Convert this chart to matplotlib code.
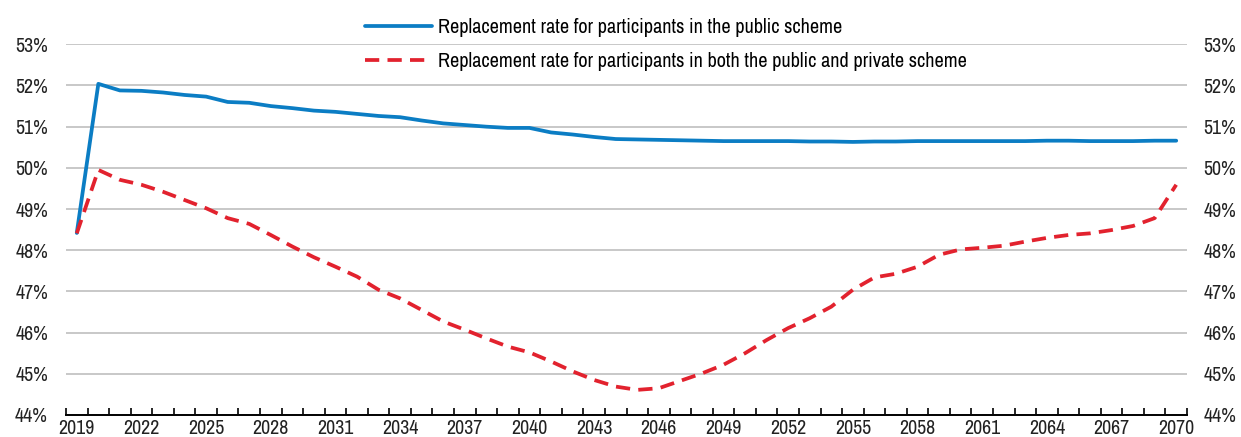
import numpy as np
import matplotlib.pyplot as plt
from matplotlib.ticker import FixedLocator, PercentFormatter

plt.rcParams['font.family'] = ['Archivo Narrow', 'Liberation Sans', 'DejaVu Sans']

years = list(range(2019, 2071))

public = [48.42, 52.04, 51.88, 51.87, 51.83, 51.77, 51.73, 51.60, 51.58, 51.50,
          51.45, 51.39, 51.36, 51.31, 51.26, 51.23, 51.15, 51.08, 51.04, 51.00,
          50.97, 50.97, 50.86, 50.81, 50.75, 50.70, 50.69, 50.68, 50.67, 50.66,
          50.65, 50.65, 50.65, 50.65, 50.64, 50.64, 50.63, 50.64, 50.64, 50.65,
          50.65, 50.65, 50.65, 50.65, 50.65, 50.66, 50.66, 50.65, 50.65, 50.65,
          50.66, 50.66]

both = [48.41, 49.95, 49.71, 49.59, 49.42, 49.22, 49.02, 48.78, 48.64, 48.37,
        48.09, 47.83, 47.60, 47.36, 47.04, 46.83, 46.55, 46.27, 46.07, 45.86,
        45.66, 45.52, 45.30, 45.06, 44.85, 44.69, 44.61, 44.65, 44.83, 45.01,
        45.22, 45.50, 45.82, 46.11, 46.35, 46.63, 47.04, 47.34, 47.43, 47.60,
        47.89, 48.02, 48.06, 48.11, 48.21, 48.30, 48.37, 48.41, 48.49, 48.59,
        48.78, 49.59]

labels = ['Replacement rate for participants in the public scheme',
          'Replacement rate for participants in both the public and private scheme']

fig = plt.figure(figsize=(12.41, 4.37), dpi=100)
ax = fig.add_axes([66 / 1241, 1 - 415 / 437, (1187 - 66) / 1241, (415 - 44.3) / 437])

x = np.arange(len(years))
l1, = ax.plot(x, public, color='#0b7dc4', lw=2.7, solid_capstyle='round', zorder=3)
l2, = ax.plot(x, both, color='#e2222e', lw=2.7, dashes=(3.8, 2.2), zorder=3)

ax.set_xlim(-0.5, len(years) - 0.5)
ax.set_ylim(44, 53)
ax.set_yticks(np.arange(44, 54, 1))
ax.yaxis.set_major_formatter(PercentFormatter(decimals=0))
ax.grid(axis='y', color='#c8c8c8', lw=1.4)
ax.set_axisbelow(True)

# year labels every 3 years, small ticks between each year
lab_pos = x[::3]
ax.set_xticks(lab_pos)
ax.set_xticklabels([str(years[i]) for i in lab_pos])
ax.xaxis.set_minor_locator(FixedLocator(np.arange(-0.5, len(years), 1)))
ax.tick_params(axis='x', which='major', length=0, pad=3, labelsize=14.4, colors='#222222')
ax.tick_params(axis='x', which='minor', direction='in', length=5, width=1.2, color='black')
ax.tick_params(axis='y', length=0, pad=13, labelsize=14.4, colors='#222222')

for s in ['top', 'left', 'right']:
    ax.spines[s].set_visible(False)
ax.spines['bottom'].set_color('black')
ax.spines['bottom'].set_linewidth(1.4)

ax2 = ax.twinx()
ax2.set_ylim(44, 53)
ax2.set_yticks(np.arange(44, 54, 1))
ax2.yaxis.set_major_formatter(PercentFormatter(decimals=0))
ax2.tick_params(axis='y', length=0, pad=12, labelsize=14.4, colors='#222222')
for s in ax2.spines.values():
    s.set_visible(False)

fig.legend([l1, l2], labels, loc='upper left', bbox_to_anchor=(365 / 1241, 1 - 18 / 437),
           frameon=False, fontsize=14.6, handlelength=3.3, handletextpad=0.3,
           labelspacing=0.75, borderpad=0, borderaxespad=0)

fig.savefig('out.png', dpi=100)
